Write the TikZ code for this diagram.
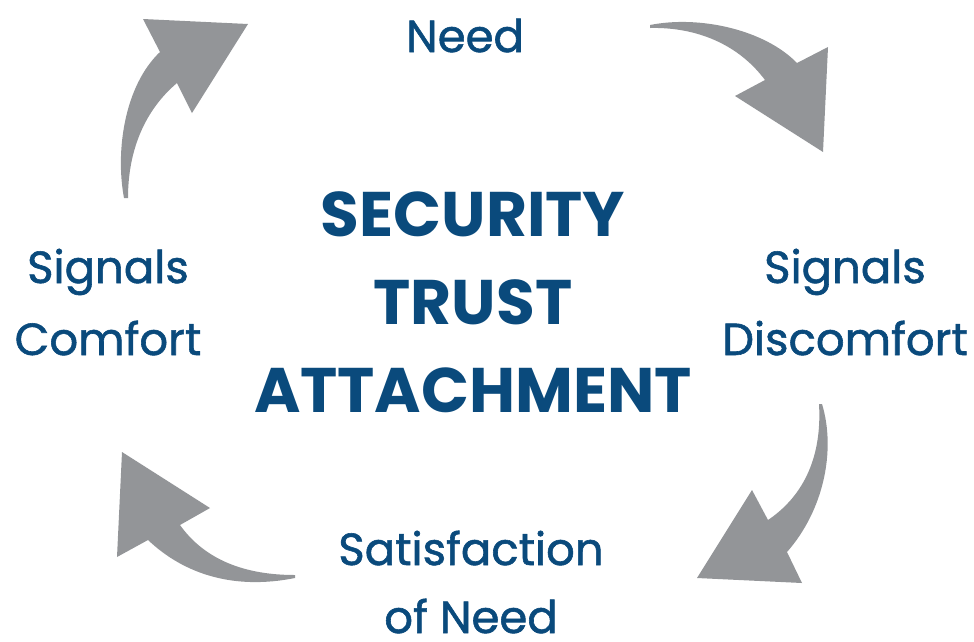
\documentclass[tikz,border=0pt]{standalone}
\usepackage{fontspec}
\setmainfont{Poppins}
\definecolor{txtblue}{HTML}{0A4A7C}
\definecolor{arrowgray}{HTML}{939598}
\begin{document}
\begin{tikzpicture}[x=1pt,y=-1pt,
  lbl/.style={text=txtblue,inner sep=0pt,align=center,font=\fontsize{45}{72}\selectfont\addfontfeature{FakeBold=1.3}},
  core/.style={text=txtblue,inner sep=0pt,align=center,font=\fontsize{63}{88}\selectfont\bfseries},
  cyc/.style={fill=arrowgray,draw=none}]
\useasboundingbox (0,0) rectangle (974,641);
% arrows
\fill[cyc] (124,198) .. controls (115,150) and (125,85) .. (160,52) -- (143,19) -- (248,24) -- (192,113) -- (177,83) .. controls (145,110) and (128,150) .. (128,198) -- cycle;
\fill[cyc] (650,25) .. controls (700,15) and (765,30) .. (797,63) -- (828,47) -- (823,152) -- (735,96) -- (765,80) .. controls (735,40) and (690,27) .. (650,28) -- cycle;
\fill[cyc] (822,404) .. controls (836,450) and (824,510) .. (787,552) -- (802,583) -- (697,578) -- (752,490) -- (768,520) .. controls (805,495) and (822,455) .. (819,404) -- cycle;
\fill[cyc] (295,575) .. controls (245,575) and (205,560) .. (180,525) -- (210,508) -- (122,452) -- (117,557) -- (148,540) .. controls (185,575) and (235,590) .. (295,578) -- cycle;
% labels (base anchor = baseline of the last line)
\node[lbl,anchor=base] (need) at (465,52) {Need};
\node[core,anchor=base] (center) at (473,412) {SECURITY\\TRUST\\ATTACHMENT};
\node[lbl,anchor=base] (comfort) at (108,355) {Signals\\Comfort};
\node[lbl,anchor=base] (discomfort) at (845,355) {Signals\\Discomfort};
\node[lbl,anchor=base,font=\fontsize{45}{68}\selectfont\addfontfeature{FakeBold=1.3}] (satisfaction) at (471,633) {Satisfaction\\of Need};
\end{tikzpicture}
\end{document}
